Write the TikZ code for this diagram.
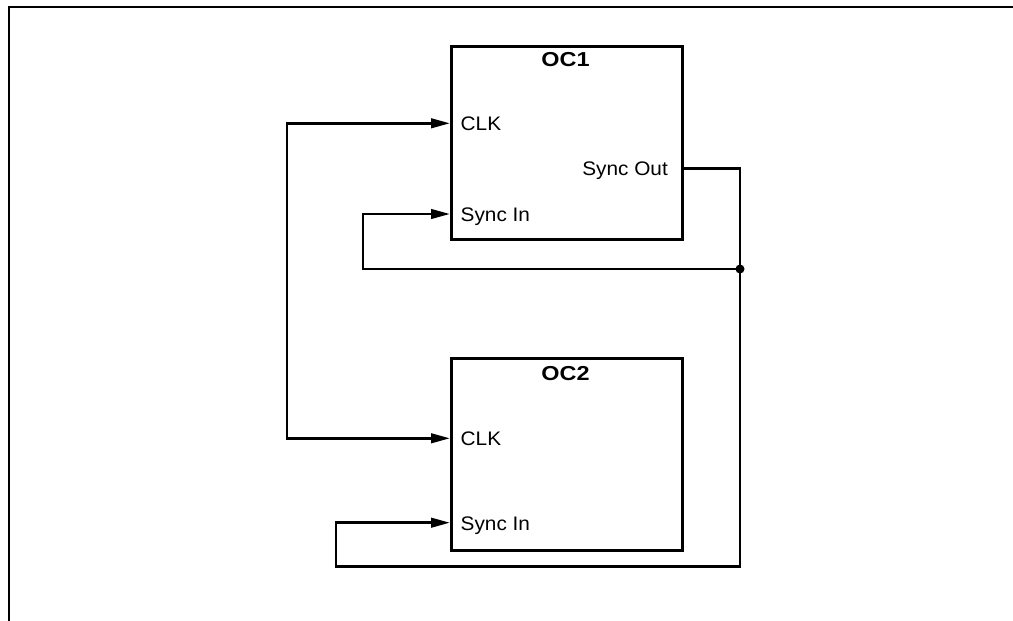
\documentclass[tikz,border=0pt]{standalone}
\usepackage{fontspec}
\setmainfont{Liberation Sans}
\newfontfamily\portfont[FakeStretch=1.06]{Liberation Sans}
\newfontfamily\blkfont[FakeStretch=1.16]{Liberation Sans Bold}
\usetikzlibrary{arrows.meta}
\begin{document}
\begin{tikzpicture}[x=1pt,y=-1pt,
  wire/.style={line width=2.7pt},
  blk/.style={draw,line width=2.7pt,minimum width=231pt,anchor=north west,inner sep=0pt},
  port/.style={font=\portfont\fontsize{19.6}{22}\selectfont,inner sep=0pt},
  title/.style={font=\blkfont\fontsize{20.2}{22}\selectfont,inner sep=0pt,anchor=base},
  tip/.style={-{Triangle[length=19pt,width=9.5pt]}},
  frameline/.style={line width=2.8pt}]
\useasboundingbox (0,0) rectangle (1013,621);
% frame
\coordinate (ftr) at (1013,7);
\coordinate (ftl) at (9,7);
\coordinate (fbl) at (9,621);
\draw[frameline] (ftr) -- (ftl) -- (fbl);
% blocks
\node[blk,minimum height=193pt] (oc1) at (450,45) {};
\node[blk,minimum height=192pt] (oc2) at (450,357) {};
\node[title] (t1) at (565.5,66.7) {OC1};
\node[title] (t2) at (565.5,380.5) {OC2};
% port labels
\node[port,anchor=base west] (c1clk) at (460.5,130.3) {CLK};
\node[port,anchor=base east] (c1out) at (668,175.3) {Sync Out};
\node[port,anchor=base west] (c1sin) at (460.5,221) {Sync In};
\node[port,anchor=base west] (c2clk) at (460.5,445.5) {CLK};
\node[port,anchor=base west] (c2sin) at (460.5,530) {Sync In};
% pin points
\coordinate (p1clk) at (450,123.3);
\coordinate (p1out) at (681,168.3);
\coordinate (p1sin) at (450,214);
\coordinate (p2clk) at (450,438.3);
\coordinate (p2sin) at (450,522.7);
\coordinate (jn) at (740,269);
\coordinate (clkx) at (287,0);
% clock
\draw[wire,{Triangle[length=19pt,width=9.5pt]}-{Triangle[length=19pt,width=9.5pt]}]
  (p1clk) -| (clkx |- p2clk) -- (p2clk);
% sync out to OC2 sync in
\draw[wire,tip] (p1out) -| (740,566.7) -| (336,522.7) -- (p2sin);
% feedback to OC1 sync in
\draw[wire,tip] (jn) -| (363,214) -- (p1sin);
\fill (jn) circle (4.5pt);
\end{tikzpicture}
\end{document}
